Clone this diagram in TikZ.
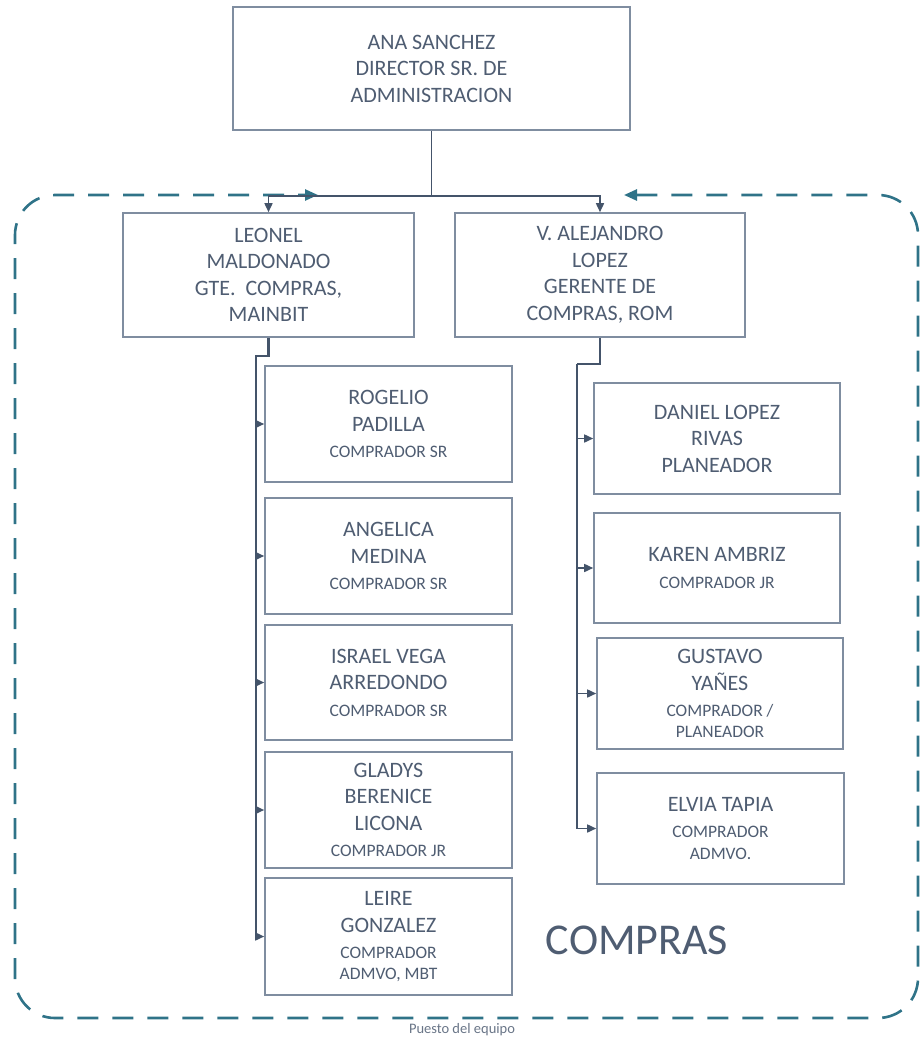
\documentclass[tikz,border=0pt]{standalone}
\usepackage{fontspec}
\setmainfont{Carlito}
\usetikzlibrary{arrows.meta}
\definecolor{connc}{HTML}{44546A}
\definecolor{boxc}{HTML}{7F8DA0}
\definecolor{txtc}{HTML}{4F5D72}
\definecolor{teamc}{HTML}{2F7388}
\newcommand{\lgf}{\fontsize{22}{26.5}\selectfont}
\newcommand{\smf}{\fontsize{17.5}{21}\selectfont}
\tikzset{
  box/.style={draw=boxc, line width=1.6pt, fill=white, align=center, text=txtc, inner sep=2pt, font=\lgf},
  conn/.style={draw=connc, line width=1.6pt},
  tip/.style={-{Triangle[length=9pt,width=8pt]}},
  team/.style={draw=teamc, line width=2.6pt, dash pattern=on 21pt off 14pt, rounded corners=40pt},
}
\begin{document}
\begin{tikzpicture}[x=1pt,y=-1pt]
\useasboundingbox (0,0) rectangle (922,1041);
% dashed team frame
\draw[team, {Triangle[length=13pt,width=11pt]}-{Triangle[length=13pt,width=11pt]}]
  (624,195) -- (918,195) -- (918,1018) -- (15,1018) -- (15,195) -- (318,195);
% boxes
\node[box, minimum width=397pt, minimum height=123pt] (top) at (431.5,68.5) {ANA SANCHEZ\\DIRECTOR SR. DE\\ADMINISTRACION};
\node[box, minimum width=291pt, minimum height=124pt] (leo) at (268.5,275) {LEONEL\\MALDONADO\\GTE.~~COMPRAS,\\MAINBIT};
\node[box, minimum width=290pt, minimum height=124pt] (ale) at (600,275) {V. ALEJANDRO\\LOPEZ\\GERENTE DE\\COMPRAS, ROM};
% left column
\node[box, minimum width=247pt, minimum height=116pt] (rog) at (388.5,424) {ROGELIO\\PADILLA\\\smf COMPRADOR SR};
\node[box, minimum width=247pt, minimum height=116pt] (ang) at (388.5,556) {ANGELICA\\MEDINA\\\smf COMPRADOR SR};
\node[box, minimum width=247pt, minimum height=115pt] (isr) at (388.5,682.5) {ISRAEL VEGA\\ARREDONDO\\\smf COMPRADOR SR};
\node[box, minimum width=247pt, minimum height=116pt] (gla) at (388.5,810) {GLADYS\\BERENICE\\LICONA\\\smf COMPRADOR JR};
\node[box, minimum width=247pt, minimum height=117pt] (lei) at (388.5,936.5) {LEIRE\\GONZALEZ\\\smf COMPRADOR\\[-6pt]\smf ADMVO, MBT};
% right column
\node[box, minimum width=246pt, minimum height=111pt] (dan) at (717,438.5) {DANIEL LOPEZ\\RIVAS\\PLANEADOR};
\node[box, minimum width=246pt, minimum height=110pt] (kar) at (717,568) {KAREN AMBRIZ\\\smf COMPRADOR JR};
\node[box, minimum width=246pt, minimum height=111pt] (gus) at (720,693.5) {GUSTAVO\\YAÑES\\\smf COMPRADOR /\\[-6pt]\smf PLANEADOR};
\node[box, minimum width=247pt, minimum height=111pt] (elv) at (720.5,828.5) {ELVIA TAPIA\\\smf COMPRADOR\\[-5pt]\smf ADMVO.};
% connectors top
\coordinate (j) at (431.5,196);
\draw[conn] (top.south) -- (j);
\draw[conn, tip] (j) -| (leo.north);
\draw[conn, tip] (j) -| (ale.north);
% left trunk
\coordinate (lb) at (256,356);
\coordinate (le) at (256,937);
\draw[conn, line width=2.4pt] (leo.south) |- (lb) -- (le);
\foreach \n in {rog,ang,isr,gla,lei}{\draw[conn, tip] (lb |- \n.west) -- (\n.west);}
% right trunk
\coordinate (rb) at (577,364);
\draw[conn] (ale.south) |- (rb);
\draw[conn, tip] (rb) |- (elv.west);
\foreach \n in {dan,kar,gus}{\draw[conn, tip] (rb |- \n.west) -- (\n.west);}
% labels
\node[text=txtc, font=\fontsize{44}{50}\selectfont] (lbl) at (637,940) {COMPRAS};
\node[text=txtc!85!white, font=\fontsize{14.5}{16}\selectfont] (pue) at (462,1030) {Puesto del equipo};
\end{tikzpicture}
\end{document}
